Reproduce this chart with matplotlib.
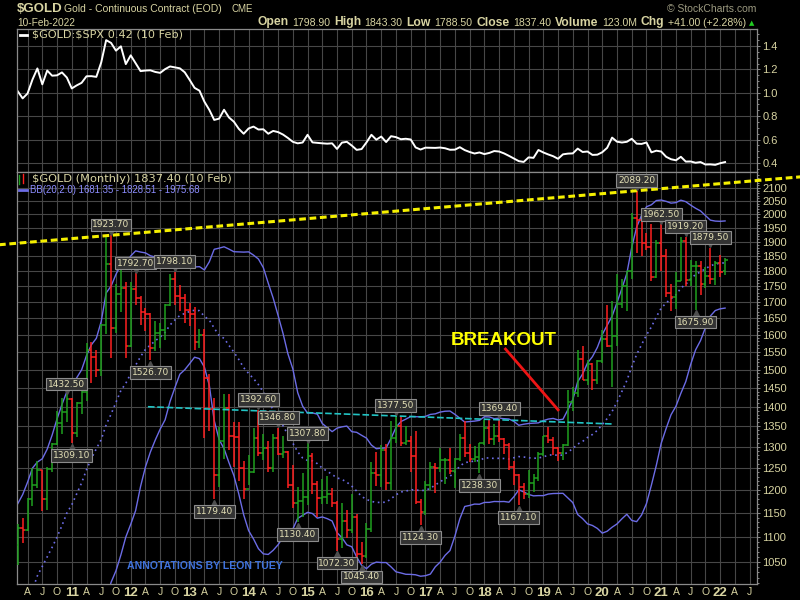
import numpy as np
import pandas as pd
import matplotlib
matplotlib.use("Agg")
import matplotlib.pyplot as plt
from matplotlib.lines import Line2D
from matplotlib.transforms import offset_copy
from matplotlib.ticker import FixedLocator, NullFormatter

plt.rcParams['font.family'] = ['Liberation Sans', 'DejaVu Sans']

# ---- data: monthly gold futures (Feb 2010 .. Feb 2022) ----
months = pd.period_range('2010-02', '2022-02', freq='M')

gold_open = [
    1083.0, 1118.3, 1113.3, 1180.0, 1212.0, 1245.0, 1181.0, 1248.0, 1307.0, 1359.0, 1386.0,
    1421.0, 1333.0, 1410.0, 1439.0, 1556.0, 1536.0, 1500.0, 1628.0, 1825.0, 1620.0, 1725.0, 1746.0,
    1566.0, 1740.0, 1711.0, 1668.0, 1664.0, 1561.0, 1604.0, 1614.0, 1691.0, 1774.0, 1719.0, 1712.0,
    1676.0, 1663.0, 1578.0, 1598.0, 1476.0, 1393.0, 1234.0, 1313.0, 1396.0, 1327.0, 1323.0, 1250.0,
    1202.0, 1240.0, 1321.0, 1284.0, 1296.0, 1250.0, 1322.0, 1282.0, 1287.0, 1211.0, 1172.0, 1175.0,
    1184.0, 1279.0, 1213.0, 1183.0, 1184.0, 1190.0, 1172.0, 1095.0, 1132.0, 1115.0, 1142.0, 1065.0,
    1061.0, 1117.0, 1238.0, 1234.0, 1293.0, 1215.0, 1321.0, 1350.0, 1310.0, 1315.0, 1277.0, 1173.0,
    1152.0, 1211.0, 1253.0, 1249.0, 1269.0, 1269.0, 1242.0, 1270.0, 1322.0, 1284.0, 1271.0, 1275.0,
    1309.0, 1345.0, 1318.0, 1327.0, 1318.0, 1305.0, 1253.0, 1233.0, 1206.0, 1192.0, 1215.0, 1226.0,
    1282.0, 1325.0, 1316.0, 1298.0, 1285.0, 1305.0, 1413.0, 1437.0, 1529.0, 1472.0, 1514.0, 1472.0,
    1523.0, 1587.0, 1566.0, 1596.0, 1694.0, 1751.0, 1800.0, 1985.0, 1978.0, 1895.0, 1881.0, 1780.0,
    1895.0, 1850.0, 1728.0, 1715.0, 1768.0, 1905.0, 1771.0, 1817.0, 1818.0, 1757.0, 1784.0, 1774.0,
    1829.0, 1798.9]
gold_high = [
    1127.0, 1139.0, 1183.0, 1249.7, 1266.5, 1245.0, 1253.0, 1310.0, 1388.0, 1424.0, 1432.5,
    1424.0, 1413.0, 1447.0, 1575.0, 1577.0, 1556.0, 1632.0, 1917.9, 1923.7, 1756.0, 1804.0, 1764.0,
    1763.0, 1792.7, 1718.0, 1681.0, 1667.0, 1642.0, 1634.0, 1693.0, 1791.0, 1798.1, 1754.0, 1726.0,
    1698.0, 1683.0, 1617.0, 1616.0, 1488.0, 1424.0, 1348.0, 1433.8, 1434.0, 1362.0, 1362.0, 1267.0,
    1280.0, 1345.0, 1392.6, 1331.0, 1315.0, 1332.0, 1346.8, 1325.0, 1290.0, 1256.0, 1207.0, 1238.0,
    1307.8, 1285.0, 1219.0, 1225.0, 1232.0, 1205.0, 1175.0, 1171.0, 1157.0, 1191.7, 1147.0, 1089.0,
    1128.0, 1264.0, 1287.8, 1303.0, 1306.0, 1362.6, 1377.5, 1375.0, 1352.0, 1327.0, 1338.0, 1181.0,
    1220.0, 1264.0, 1261.0, 1297.0, 1273.0, 1296.0, 1274.0, 1331.0, 1362.4, 1307.0, 1302.0, 1310.0,
    1366.0, 1365.0, 1356.0, 1369.4, 1320.0, 1309.0, 1267.0, 1236.0, 1215.0, 1246.0, 1237.0, 1287.0,
    1326.0, 1349.0, 1324.0, 1300.0, 1306.0, 1442.9, 1453.0, 1555.0, 1566.0, 1527.0, 1517.0, 1526.0,
    1613.0, 1691.7, 1704.3, 1788.8, 1775.0, 1800.5, 2005.4, 2089.2, 2000.0, 1933.0, 1966.0, 1908.0,
    1962.5, 1875.0, 1756.0, 1798.0, 1916.6, 1919.2, 1836.0, 1833.0, 1834.0, 1813.0, 1879.5, 1833.0,
    1853.0, 1843.3]
gold_low = [
    1044.5, 1088.0, 1113.0, 1165.0, 1204.0, 1155.0, 1157.0, 1241.0, 1305.0, 1330.0, 1360.0,
    1309.1, 1324.0, 1381.0, 1416.0, 1462.0, 1478.0, 1481.0, 1602.0, 1532.0, 1604.0, 1670.0, 1531.0,
    1564.0, 1690.0, 1628.0, 1611.0, 1526.7, 1551.0, 1562.0, 1583.0, 1686.0, 1692.0, 1672.0, 1635.0,
    1626.0, 1555.0, 1562.0, 1321.5, 1338.0, 1179.4, 1207.0, 1270.0, 1292.0, 1251.0, 1221.0, 1180.5,
    1212.0, 1238.0, 1277.0, 1268.0, 1240.0, 1240.0, 1280.0, 1272.0, 1204.0, 1160.0, 1130.4, 1142.0,
    1167.0, 1191.0, 1142.0, 1170.0, 1170.0, 1162.0, 1072.3, 1078.0, 1098.0, 1108.0, 1052.0, 1045.4,
    1058.0, 1110.0, 1208.0, 1206.0, 1200.0, 1200.0, 1310.0, 1301.0, 1305.0, 1241.0, 1170.0, 1124.3,
    1146.0, 1200.0, 1194.0, 1241.0, 1214.0, 1237.0, 1205.0, 1267.0, 1276.0, 1264.0, 1264.0, 1238.3,
    1303.0, 1307.0, 1303.0, 1311.0, 1282.0, 1245.0, 1212.0, 1167.1, 1180.0, 1182.0, 1196.0, 1221.0,
    1277.0, 1310.0, 1281.0, 1267.0, 1268.0, 1301.0, 1388.0, 1426.0, 1471.0, 1458.0, 1445.0, 1460.0,
    1517.0, 1563.0, 1450.9, 1567.0, 1681.0, 1671.0, 1773.0, 1863.0, 1851.0, 1873.0, 1767.0, 1777.0,
    1802.0, 1717.0, 1673.3, 1679.0, 1767.0, 1750.0, 1751.0, 1675.9, 1721.0, 1746.0, 1758.0, 1753.0,
    1780.0, 1788.5]
gold_close = [
    1118.3, 1113.3, 1180.0, 1212.0, 1245.0, 1181.0, 1248.0, 1307.0, 1359.0, 1386.0, 1421.0,
    1333.0, 1410.0, 1439.0, 1556.0, 1536.0, 1500.0, 1628.0, 1825.0, 1620.0, 1725.0, 1746.0, 1566.0,
    1740.0, 1711.0, 1668.0, 1664.0, 1561.0, 1604.0, 1614.0, 1691.0, 1774.0, 1719.0, 1712.0, 1676.0,
    1663.0, 1578.0, 1598.0, 1476.0, 1393.0, 1234.0, 1313.0, 1396.0, 1327.0, 1323.0, 1250.0, 1202.0,
    1240.0, 1321.0, 1284.0, 1296.0, 1250.0, 1322.0, 1282.0, 1287.0, 1211.0, 1172.0, 1175.0, 1184.0,
    1279.0, 1213.0, 1183.0, 1184.0, 1190.0, 1172.0, 1095.0, 1132.0, 1115.0, 1142.0, 1065.0, 1061.0,
    1117.0, 1238.0, 1234.0, 1293.0, 1215.0, 1321.0, 1350.0, 1310.0, 1315.0, 1277.0, 1173.0, 1152.0,
    1211.0, 1253.0, 1249.0, 1269.0, 1269.0, 1242.0, 1270.0, 1322.0, 1284.0, 1271.0, 1275.0, 1309.0,
    1345.0, 1318.0, 1327.0, 1318.0, 1305.0, 1253.0, 1233.0, 1206.0, 1192.0, 1215.0, 1226.0, 1282.0,
    1325.0, 1316.0, 1298.0, 1285.0, 1305.0, 1413.0, 1437.0, 1529.0, 1472.0, 1514.0, 1472.0, 1523.0,
    1587.0, 1566.0, 1596.0, 1694.0, 1751.0, 1800.0, 1985.0, 1978.0, 1895.0, 1881.0, 1780.0, 1895.0,
    1850.0, 1728.0, 1715.0, 1768.0, 1905.0, 1771.0, 1817.0, 1818.0, 1757.0, 1784.0, 1774.0, 1829.0,
    1796.0, 1837.4]
# closes Jul 2008 .. Jan 2010, only needed to seed the 20-month bands
closes_before = [912, 833, 884, 718, 816, 884, 928, 942, 916, 891, 979, 927,
                 955, 955, 1008, 1040, 1182, 1096, 1081]

# $GOLD:$SPX ratio, monthly
gold_spx = [
    1.013, 0.952, 0.994, 1.113, 1.208, 1.072, 1.190, 1.146, 1.149, 1.174, 1.130,
    1.037, 1.063, 1.085, 1.141, 1.142, 1.136, 1.260, 1.450, 1.426, 1.360, 1.397, 1.245,
    1.320, 1.253, 1.185, 1.190, 1.192, 1.178, 1.170, 1.202, 1.225, 1.217, 1.209, 1.175,
    1.110, 1.042, 1.018, 0.924, 0.854, 0.768, 0.779, 0.855, 0.789, 0.753, 0.692, 0.650,
    0.695, 0.711, 0.686, 0.688, 0.650, 0.674, 0.664, 0.643, 0.614, 0.581, 0.568, 0.575,
    0.641, 0.576, 0.572, 0.568, 0.565, 0.568, 0.520, 0.574, 0.581, 0.549, 0.512, 0.519,
    0.576, 0.641, 0.599, 0.626, 0.579, 0.629, 0.621, 0.603, 0.607, 0.601, 0.533, 0.515,
    0.531, 0.530, 0.529, 0.532, 0.526, 0.513, 0.514, 0.535, 0.510, 0.494, 0.481, 0.490,
    0.476, 0.486, 0.502, 0.498, 0.482, 0.461, 0.438, 0.416, 0.409, 0.448, 0.444, 0.511,
    0.490, 0.473, 0.458, 0.436, 0.474, 0.480, 0.482, 0.523, 0.494, 0.498, 0.469, 0.471,
    0.492, 0.530, 0.617, 0.582, 0.575, 0.581, 0.607, 0.565, 0.563, 0.575, 0.491, 0.505,
    0.498, 0.453, 0.432, 0.423, 0.453, 0.412, 0.413, 0.402, 0.408, 0.387, 0.388, 0.384,
    0.398, 0.408]

high_marks = ['2010-12', '2011-09', '2012-02', '2012-10', '2014-03', '2014-07', '2015-01',
              '2016-07', '2018-04', '2020-08', '2021-01', '2021-06', '2021-11']
low_marks = ['2011-01', '2012-05', '2013-06', '2014-11', '2015-07', '2015-12', '2016-12',
             '2017-12', '2018-08', '2021-08']

# hand-drawn lines (month number from Jan 2010, price)
support_x = [27.5, 122.0]
support_y = [1400.0, 1356.0]
arrow_x = [100.3, 111.0]
arrow_y = [1558.0, 1392.0]

# ---- styling ----
BG = 'black'
TXT = '#d8d4a2'
GRID = '#474747'
SPINE = '#8a8a8a'
GREEN = '#1fa01f'
RED = '#ff2020'
BB = '#6c6ce6'

W, H = 800, 600
def fx(px): return px / W
def fy(py): return 1 - py / H

mnum = np.array([(p.year - 2010) * 12 + p.month - 1 for p in months])
idx = {str(p): i for i, p in enumerate(months)}

fig = plt.figure(figsize=(8, 6), dpi=100, facecolor=BG)
L, R = 17, 757
ax1 = fig.add_axes([fx(L), fy(172), (R - L) / W, (172 - 29) / H])
ax2 = fig.add_axes([fx(L), fy(584), (R - L) / W, (584 - 172) / H])

xlim = (0.85, 151.5)
qticks = list(range(3, 151, 3))
qlabels = []
for q in qticks:
    r = q % 12
    qlabels.append({0: '%02d' % ((2010 + q // 12) % 100), 3: 'A', 6: 'J', 9: 'O'}[r])

for ax in (ax1, ax2):
    ax.set_facecolor(BG)
    ax.set_xlim(*xlim)
    for s in ax.spines.values():
        s.set_color(SPINE)
        s.set_linewidth(0.9)
    ax.yaxis.tick_right()
    ax.set_xticks(qticks)
    ax.grid(True, which='major', color=GRID, lw=0.8)
    ax.set_axisbelow(True)
    ax.tick_params(axis='y', which='both', colors=SPINE, labelcolor=TXT,
                   length=2.5, width=0.7, pad=1.5, labelsize=8)
    ax.tick_params(axis='y', which='minor', length=1.5)
    ax.tick_params(axis='x', length=0, colors=TXT, pad=2.5)

# ---- top panel: gold / spx ----
ax1.plot(mnum, gold_spx, color='white', lw=1.4)
ax1.set_ylim(0.323, 1.545)
ax1.set_yticks([0.4, 0.6, 0.8, 1.0, 1.2, 1.4])
ax1.set_yticklabels(['0.4', '0.6', '0.8', '1.0', '1.2', '1.4'])
ax1.yaxis.set_minor_locator(FixedLocator(np.arange(0.35, 1.55, 0.05)))
ax1.set_xticklabels([])

# ---- bottom panel: monthly OHLC ----
o = np.array(gold_open)
h = np.array(gold_high)
lo = np.array(gold_low)
c = np.array(gold_close)
prev = np.concatenate([[closes_before[-1]], c[:-1]])
cols = np.where(c >= prev, GREEN, RED)
ax2.vlines(mnum, lo, h, colors=cols, lw=1.1, zorder=3)
ax2.hlines(o, mnum - 0.5, mnum, colors=cols, lw=1.1, zorder=3)
ax2.hlines(c, mnum, mnum + 0.5, colors=cols, lw=1.1, zorder=3)

allc = pd.Series(closes_before + gold_close, dtype=float)
mid = allc.rolling(20).mean().values[-len(c):]
sd = allc.rolling(20).std(ddof=0).values[-len(c):]
ax2.plot(mnum, mid + 2 * sd, color=BB, lw=1.0, zorder=2)
ax2.plot(mnum, mid - 2 * sd, color=BB, lw=1.0, zorder=2)
ax2.plot(mnum, mid, color=BB, lw=1.2, ls=(0, (1, 2.2)), zorder=2)

ax2.set_yscale('log')
ax2.set_ylim(1008, 2163)
yt = list(range(1050, 2101, 50))
ax2.yaxis.set_major_locator(FixedLocator(yt))
ax2.set_yticklabels([str(v) for v in yt])
ax2.yaxis.set_minor_locator(FixedLocator(np.arange(1010, 2160, 10)))
ax2.yaxis.set_minor_formatter(NullFormatter())

ax2.set_xticklabels(qlabels)
for lab, q in zip(ax2.get_xticklabels(), qticks):
    if q % 12 == 0:
        lab.set_fontweight('bold')
        lab.set_fontsize(9.5)
    else:
        lab.set_fontsize(7.5)

# resistance line through the 2011 and 2020 highs, drawn across the whole figure
i1, i2 = idx['2011-09'], idx['2020-08']
slope = (np.log(h[i2]) - np.log(h[i1])) / (mnum[i2] - mnum[i1])
rx = np.array([-3.5, 162.0])
ry = np.exp(np.log(h[i1]) + slope * (rx - mnum[i1]))
ax2.plot(rx, ry, color='#f5f000', lw=2.2, dashes=(2.2, 1.2), clip_on=False, zorder=5)

ax2.plot(support_x, support_y, color='#22c4c4', lw=1.2, dashes=(4, 1.6), zorder=4)
ax2.plot(arrow_x, arrow_y, color='#ee1515', lw=2.0, zorder=5)
ax2.text(99.9, 1582, 'BREAKOUT', color='#ffff00', fontsize=13.5, fontweight='bold',
         ha='center', va='center', zorder=6)
ax2.text(39.0, 1043, 'ANNOTATIONS BY LEON TUEY', color='#3f72dc', fontsize=7.6,
         fontweight='bold', ha='center', va='center', zorder=6)

def badge(m, price, above):
    sign = 1 if above else -1
    tri = offset_copy(ax2.transData, fig=fig, x=0, y=sign * 2.6, units='points')
    ax2.plot([m], [price], marker='v' if above else '^', ms=5, color='#4e4e4e',
             transform=tri, zorder=6, clip_on=False)
    ax2.annotate('%.2f' % price, (m, price), xytext=(0, 7.4 if above else -9.0),
                 textcoords='offset points', ha='center', va='center', fontsize=6.5,
                 family='DejaVu Sans', color='#e4e0b6',
                 bbox=dict(boxstyle='square,pad=0.2', fc='#333333', ec='#8c8c8c', lw=0.8),
                 zorder=7, annotation_clip=False)

for k in high_marks:
    badge(mnum[idx[k]], h[idx[k]], True)
for k in low_marks:
    badge(mnum[idx[k]], lo[idx[k]], False)

# ---- legends ----
fig.add_artist(Line2D([fx(20), fx(27)], [fy(34.5), fy(34.5)], color='white', lw=2))
fig.text(fx(32), fy(34.5), r'\$GOLD:\$SPX 0.42 (10 Feb)', color=TXT, fontsize=8.1,
         family='DejaVu Sans', va='center')
fig.add_artist(Line2D([fx(19), fx(19)], [fy(175), fy(184)], color=GREEN, lw=1))
fig.add_artist(Line2D([fx(23), fx(23)], [fy(174), fy(183)], color=RED, lw=1))
fig.text(fx(32), fy(179), r'\$GOLD (Monthly) 1837.40 (10 Feb)', color=TXT, fontsize=8.2,
         family='DejaVu Sans', va='center')
fig.add_artist(Line2D([fx(19), fx(27)], [fy(190), fy(190)], color=BB, lw=2))
fig.text(fx(30), fy(190), 'BB(20,2.0) 1681.35 - 1828.51 - 1975.68', color='#8c8cff',
         fontsize=6.9, va='center')

# ---- header ----
fig.text(fx(17), fy(9), r'\$GOLD', color=TXT, fontsize=9.5, fontweight='bold', va='center')
fig.text(fx(64), fy(9), 'Gold - Continuous Contract (EOD)', color=TXT, fontsize=7.5, va='center')
fig.text(fx(231), fy(9), 'CME', color=TXT, fontsize=7, va='center')
fig.text(fx(17), fy(22.5), '10-Feb-2022', color=TXT, fontsize=7.3, va='center')
fig.text(fx(756), fy(9), '\u00a9 StockCharts.com', color='#9c9a80', fontsize=7.5,
         ha='right', va='center')

fig.canvas.draw()
rend = fig.canvas.get_renderer()
pieces = [('Open', True), ('1798.90', False), ('High', True), ('1843.30', False),
          ('Low', True), ('1788.50', False), ('Close', True), ('1837.40', False),
          ('Volume', True), ('123.0M', False), ('Chg', True), ('+41.00 (+2.28%)', False)]
x = 746
for k, (s, bold) in enumerate(reversed(pieces)):
    t = fig.text(fx(x), fy(22.5), s, color=TXT, fontsize=8.7 if bold else 7.6,
                 fontweight='bold' if bold else 'normal', ha='right', va='center')
    w = t.get_window_extent(renderer=rend).width
    x -= w + (4 if bold else 3.5)
fig.text(fx(752), fy(23), '\u25b2', color='#22cc22', fontsize=5, ha='center', va='center',
         family='DejaVu Sans')

fig.savefig('out.png', dpi=100, facecolor=BG)
